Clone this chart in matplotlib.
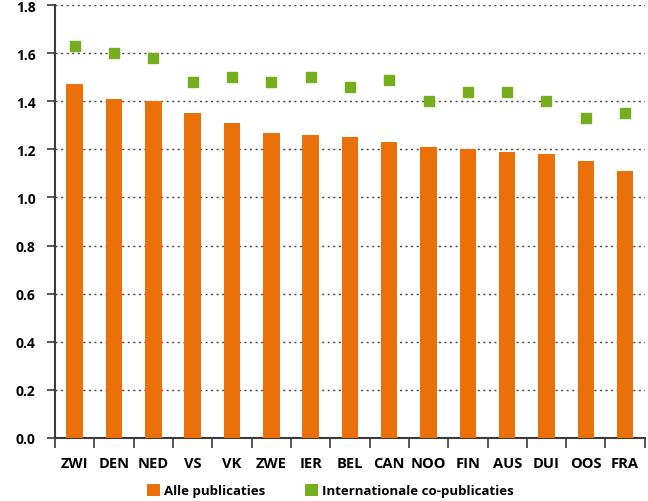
import matplotlib
matplotlib.use("Agg")
import matplotlib.pyplot as plt
import numpy as np
from matplotlib.patches import Patch

categories = ["ZWI", "DEN", "NED", "VS", "VK", "ZWE", "IER", "BEL", "CAN", "NOO", "FIN", "AUS", "DUI", "OOS", "FRA"]
alle = [1.47, 1.41, 1.40, 1.35, 1.31, 1.27, 1.26, 1.25, 1.23, 1.21, 1.20, 1.19, 1.18, 1.15, 1.11]
internationaal = [1.63, 1.60, 1.58, 1.48, 1.50, 1.48, 1.50, 1.46, 1.49, 1.40, 1.44, 1.44, 1.40, 1.33, 1.35]
yticks = [0.0, 0.2, 0.4, 0.6, 0.8, 1.0, 1.2, 1.4, 1.6, 1.8]
legend_labels = ["Alle publicaties", "Internationale co-publicaties"]

orange = "#EC700A"
green = "#76AE1E"
axcol = "#3a3a3a"

plt.rcParams['font.family'] = ['Open Sans', 'DejaVu Sans']

fig = plt.figure(figsize=(6.48, 5.02), dpi=100)
ax = fig.add_axes([0.085, 0.1255, 0.91, 0.8625])

x = np.arange(len(categories))
ax.bar(x, alle, width=0.42, color=orange, zorder=3)
ax.plot(x, internationaal, linestyle="none", marker="s", markersize=7.8, color=green, zorder=4)

ax.set_xlim(-0.5, len(categories) - 0.5)
ax.set_ylim(0, 1.8)
ax.set_yticks(yticks)
ax.set_yticklabels([f"{v:.1f}" for v in yticks], fontweight="bold", fontsize=10)

ax.set_xticks(np.arange(len(categories) + 1) - 0.5)
ax.set_xticklabels([])
ax.set_xticks(x, minor=True)
ax.set_xticklabels(categories, minor=True, fontweight="bold", fontsize=10.5)
ax.tick_params(axis="x", which="major", length=7, width=1.2, color=axcol, direction="out")
ax.tick_params(axis="x", which="minor", length=0, pad=13)
ax.tick_params(axis="y", length=6, width=1.2, color=axcol, pad=8)

for v in yticks[1:]:
    ax.axhline(v, color="#444444", linestyle=(0, (1.5, 2.5)), linewidth=1.0, zorder=1)

for s in ["top", "right"]:
    ax.spines[s].set_visible(False)
for s in ["left", "bottom"]:
    ax.spines[s].set_color(axcol)
    ax.spines[s].set_linewidth(1.5)

handles = [Patch(facecolor=orange, edgecolor="none"),
           Patch(facecolor=green, edgecolor="none")]
fig.legend(handles, legend_labels, loc="lower center", bbox_to_anchor=(0.51, -0.016), ncol=2,
           frameon=False, prop={"weight": "bold", "size": 9.5}, handlelength=1.0, handleheight=1.0,
           handletextpad=0.3, columnspacing=3.0)

fig.savefig("out.png", dpi=100)
